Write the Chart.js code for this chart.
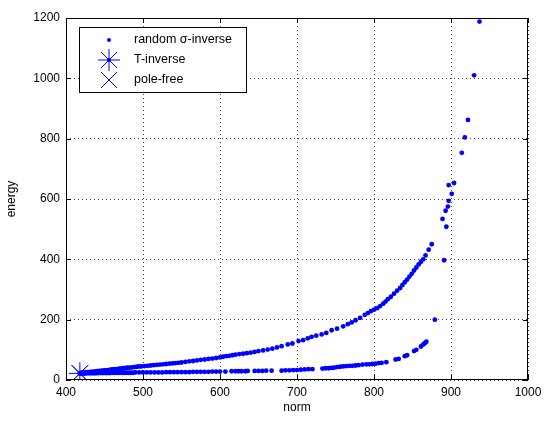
<!DOCTYPE html>
<html>
<head>
<meta charset="utf-8">
<script src="https://cdn.jsdelivr.net/npm/chart.js@4.4.1/dist/chart.umd.min.js"></script>
<style>
  html, body { margin: 0; padding: 0; background: #fff; }
  #wrap { width: 551px; height: 421px; }
</style>
</head>
<body>
<div id="wrap"><canvas id="chart" width="551" height="421"></canvas></div>
<script>
// ---- data: [norm, energy] ----
const upperBranch = [
  [418,23],[420,24],[422,24],[424,25],[426,25],[428,26],[430,26],[432,27],[434,27],[436,28],
  [438,28],[440,29],[442,29],[444,30],[446,30],[448,31],[450,32],[452,32],[454,33],[456,33],
  [458,34],[460,35],[462,35],[464,36],[466,36],[468,37],[470,38],[472,38],[474,39],[476,39],
  [478,40],[480,41],[483,41],[486,42],[489,43],[492,44],[495,45],[498,45],[502,46],[506,47],
  [510,48],[514,49],[518,50],[522,51],[526,52],[530,53],[534,54],[538,55],[542,56],[546,57],
  [550,58],[555,60],[560,62],[565,63],[570,65],[575,67],[580,68],[585,70],[590,71],[595,73],
  [600,75],[604,77],[608,79],[612,80],[616,82],[620,84],[625,86],[630,87],[635,89],[640,91],
  [645,93],[650,96],[656,98],[662,101],[668,104],[674,108],[680,112],[688,118],[694,121],
  [702,129],[708,132],[714,138],[719,143],[725,147],[732,151],[738,156],[745,165],[752,170],
  [760,178],[766,185],[771,191],[776,198],[782,206],[788,216],[792,222],[796,228],[800,233],
  [804,238],[808,245],[812,253],[815,260],[818,268],[822,276],[826,286],[830,296],[834,305],
  [837,315],[840,324],[843,333],[846,343],[849,352],[852,363],[855,373],[858,383],[861,392],
  [864,400],[867,413],[871,432],[875,450]
];

const lowerBranch = [
  [418,21],[421,21],[424,21],[427,22],[430,22],[433,22],[436,22],[439,22],[442,23],[445,23],
  [448,23],[451,23],[454,23],[457,23],[460,24],[463,24],[466,24],[469,24],[472,24],[475,24],
  [478,24],[481,24],[484,24],[487,24],[490,25],[495,25],[500,25],[505,25],[510,25],[515,25],
  [520,25],[525,25],[530,26],[535,26],[540,26],[545,26],[550,26],[555,26],[560,26],[565,27],
  [570,27],[575,27],[580,27],[585,27],[590,28],[595,28],[600,28],[607,28],[615,29],[620,29],
  [624,29],[628,29],[633,29],[636,30],[645,30],[650,30],[655,30],[660,31],[667,31],[680,31],
  [685,32],[690,32],[695,33],[700,33],[705,34],[710,35],[715,36],[720,36],[733,38],[737,39],
  [741,39],[745,40],[748,41],[752,43],[756,44],[760,45],[764,46],[768,47],[772,47],[776,48],
  [780,49],[785,51],[790,52],[794,52],[798,53],[802,54],[806,56],[810,57],[816,59],[828,68],
  [832,70],[840,79],[843,82],[852,96],[855,100],[861,111],[864,118],[866,122],[868,127]
];

const steepTail = [
  [879,200],[891,397],[894,508],[889,534],[893,561],[896,575],[897,594],[901,617],
  [897,646],[904,653],[914,753],[918,804],[922,862],[930,1010],[937,1188]
];

const tInverse = [[418,22]];
const poleFree = [[418,22]];

const normTicks = [400, 500, 600, 700, 800, 900, 1000];
const energyTicks = [0, 200, 400, 600, 800, 1000, 1200];

const legendLabels = ["random \u03C3-inverse", "T-inverse", "pole-free"];

// ================================
// helpers
// ================================
const BLUE = "#0000ff";
const FONT = "'Liberation Sans', Arial, sans-serif";
const toXY = arr => arr.map(p => ({ x: p[0], y: p[1] }));

// box + inward ticks + legend + axis titles (matlab look)
const matlabFrame = {
  id: "matlabFrame",
  afterDraw(chart) {
    const { ctx, chartArea: a, scales } = chart;
    ctx.save();
    ctx.strokeStyle = "#000";
    ctx.lineWidth = 1;
    ctx.strokeRect(a.left + 0.5, a.top + 0.5, a.right - a.left - 1, a.bottom - a.top - 1);

    ctx.beginPath();
    normTicks.forEach(v => {
      const x = Math.round(scales.x.getPixelForValue(v)) + 0.5;
      ctx.moveTo(x, a.bottom); ctx.lineTo(x, a.bottom - 5);
      ctx.moveTo(x, a.top); ctx.lineTo(x, a.top + 5);
    });
    energyTicks.forEach(v => {
      const y = Math.round(scales.y.getPixelForValue(v)) + 0.5;
      ctx.moveTo(a.left, y); ctx.lineTo(a.left + 5, y);
      ctx.moveTo(a.right, y); ctx.lineTo(a.right - 5, y);
    });
    ctx.stroke();

    // axis titles
    ctx.fillStyle = "#000";
    ctx.font = "12px " + FONT;
    ctx.textAlign = "center";
    ctx.textBaseline = "middle";
    ctx.fillText("norm", (a.left + a.right) / 2, 408);
    ctx.save();
    ctx.translate(12, (a.top + a.bottom) / 2);
    ctx.rotate(-Math.PI / 2);
    ctx.fillText("energy", 0, 0);
    ctx.restore();

    // legend
    const lx = 79, ly = 27, lw = 167, lh = 65;
    ctx.fillStyle = "#fff";
    ctx.fillRect(lx, ly, lw, lh);
    ctx.strokeRect(lx + 0.5, ly + 0.5, lw, lh);

    const mx = 109;
    const rows = [40, 60, 80];
    ctx.strokeStyle = BLUE;
    ctx.fillStyle = BLUE;
    // dot
    ctx.beginPath(); ctx.arc(mx, rows[0], 2, 0, Math.PI * 2); ctx.fill();
    // star
    ctx.beginPath();
    ctx.moveTo(mx - 11, rows[1]); ctx.lineTo(mx + 11, rows[1]);
    ctx.moveTo(mx, rows[1] - 11); ctx.lineTo(mx, rows[1] + 11);
    ctx.moveTo(mx - 8, rows[1] - 8); ctx.lineTo(mx + 8, rows[1] + 8);
    ctx.moveTo(mx - 8, rows[1] + 8); ctx.lineTo(mx + 8, rows[1] - 8);
    ctx.stroke();
    ctx.beginPath(); ctx.arc(mx, rows[1], 2, 0, Math.PI * 2); ctx.fill();
    // x
    ctx.beginPath();
    ctx.moveTo(mx - 8, rows[2] - 8); ctx.lineTo(mx + 8, rows[2] + 8);
    ctx.moveTo(mx - 8, rows[2] + 8); ctx.lineTo(mx + 8, rows[2] - 8);
    ctx.stroke();

    ctx.fillStyle = "#000";
    ctx.font = "12.5px " + FONT;
    ctx.textAlign = "left";
    legendLabels.forEach((t, i) => ctx.fillText(t, 134, rows[i]));
    ctx.restore();
  }
};

// ================================
// chart
// ================================
new Chart(document.getElementById("chart"), {
  type: "scatter",
  data: {
    datasets: [
      {
        label: legendLabels[0],
        data: toXY(upperBranch.concat(lowerBranch, steepTail)),
        pointStyle: "circle",
        pointRadius: 2.4,
        pointBorderWidth: 0,
        backgroundColor: BLUE,
        borderColor: BLUE
      },
      {
        label: legendLabels[1],
        data: toXY(tInverse),
        pointStyle: "star",
        pointRadius: 11,
        pointBorderWidth: 1,
        borderColor: BLUE,
        backgroundColor: "transparent"
      },
      {
        label: legendLabels[2],
        data: toXY(poleFree),
        pointStyle: "crossRot",
        pointRadius: 12,
        pointBorderWidth: 1,
        borderColor: BLUE,
        backgroundColor: "transparent"
      }
    ]
  },
  options: {
    responsive: false,
    animation: false,
    layout: { padding: { top: 18, right: 23, left: 0, bottom: 0 } },
    plugins: {
      legend: { display: false },
      tooltip: { enabled: false }
    },
    scales: {
      x: {
        type: "linear",
        min: 400,
        max: 1000,
        afterBuildTicks: s => { s.ticks = normTicks.map(v => ({ value: v })); },
        afterFit: s => { s.height = 41; },
        ticks: {
          color: "#000", font: { family: FONT, size: 12 }, padding: 5, maxRotation: 0,
          callback: v => String(v)
        },
        grid: { color: "#444", lineWidth: 1, drawTicks: false },
        border: { display: false, dash: [1, 3] }
      },
      y: {
        type: "linear",
        min: 0,
        max: 1200,
        afterBuildTicks: s => { s.ticks = energyTicks.map(v => ({ value: v })); },
        afterFit: s => { s.width = 66; },
        ticks: {
          color: "#000", font: { family: FONT, size: 12 }, padding: 6,
          callback: v => String(v)
        },
        grid: { color: "#444", lineWidth: 1, drawTicks: false },
        border: { display: false, dash: [1, 3] }
      }
    }
  },
  plugins: [matlabFrame]
});
</script>
</body>
</html>
